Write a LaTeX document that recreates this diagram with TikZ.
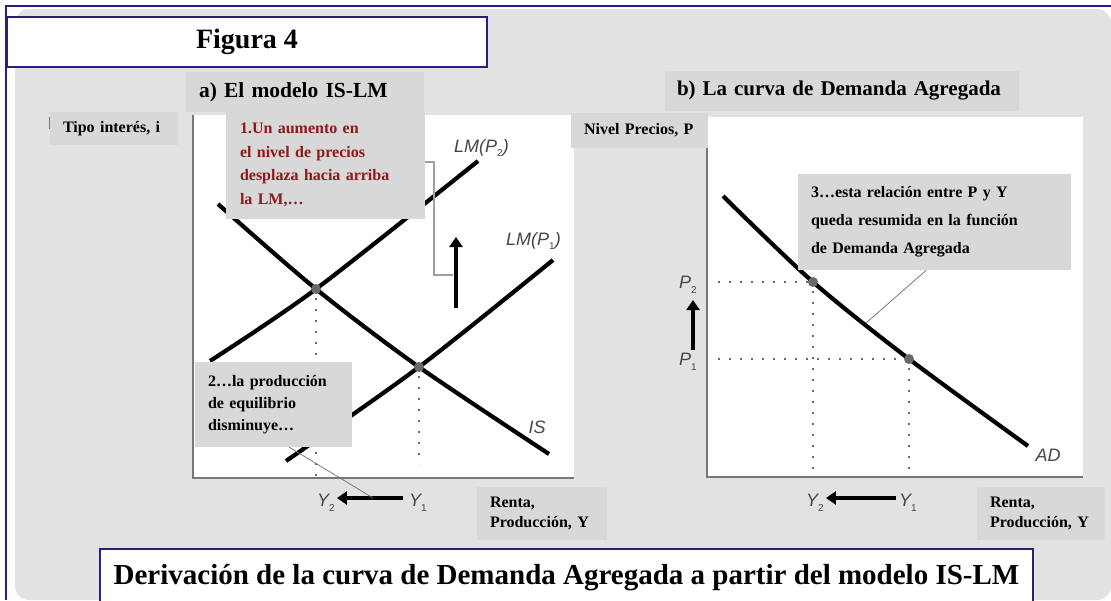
\documentclass[tikz,border=0pt]{standalone}
\usepackage{fontspec}
\setmainfont{Liberation Serif}
\newfontfamily\labfont{Liberation Sans}
\usetikzlibrary{arrows.meta,calc}
\definecolor{navy}{RGB}{38,34,122}
\definecolor{bggray}{RGB}{226,226,226}
\definecolor{boxgray}{RGB}{216,216,216}
\definecolor{darkred}{RGB}{140,26,26}
\definecolor{dotgray}{RGB}{105,105,105}
\definecolor{axisgray}{RGB}{120,120,120}
\definecolor{labgray}{RGB}{70,70,70}
\definecolor{leadgray}{RGB}{110,110,110}
\definecolor{brgray}{RGB}{160,160,160}
\newcommand{\lsub}[1]{\raisebox{-4.5pt}{\upshape\fontsize{10}{10}\selectfont #1}}
\begin{document}
\begin{tikzpicture}[x=1pt,y=-1pt,
  graybox/.style={fill=boxgray, inner ysep=0pt, align=left, text=black},
  lbl/.style={graybox, font=\fontsize{16}{20}\selectfont\bfseries, inner xsep=13pt},
  ttl/.style={graybox, font=\fontsize{21.5}{26}\selectfont\bfseries, inner xsep=13pt},
  whitebox/.style={draw=navy, line width=1.4pt, fill=white, inner sep=0pt},
  curve/.style={line width=4.2pt, black},
  axisline/.style={line width=1.6pt, axisgray},
  dotline/.style={line width=2pt, dotgray, dash pattern=on 2pt off 9pt},
  eqdot/.style={circle, fill=dotgray, inner sep=0pt, minimum size=10pt},
  bigarrow/.style={line width=4.5pt, -{Triangle[length=10pt,width=13pt]}},
  leader/.style={line width=0.7pt, leadgray},
  bracket/.style={line width=1.1pt, brgray},
  curvelab/.style={font=\fontsize{18}{20}\selectfont\labfont\itshape, text=labgray, inner sep=0pt},
]
\useasboundingbox (0,0) rectangle (1111,600);
\fill[white] (0,0) rectangle (1111,600);
\fill[bggray, rounded corners=14pt] (15,9) rectangle (1111,600);
\draw[navy, line width=1.4pt] (6,600) -- (6,6) -- (1111,6);

% plot areas
\fill[white] (193,115) rectangle (574,478);
\fill[white] (707,117) rectangle (1083,477);
\draw[axisline] (193,115) -- (193,478) -- (574,478);
\draw[axisline] (707,148) -- (707,477) -- (1083,477);
\draw[axisgray, line width=1pt] (49,117) -- (49,129);

% title boxes
\node[whitebox, minimum width=480pt, minimum height=50pt, font=\fontsize{28}{32}\selectfont\bfseries] (fig) at (247,42) {Figura 4};
\node[ttl, text width=212pt, minimum height=40pt] (ta) at (305,92) {\mbox{a) El modelo IS-LM}};
\node[ttl, text width=330pt, inner xsep=12pt, minimum height=40pt, font=\fontsize{21}{26}\selectfont\bfseries] (tb) at (842,91) {\mbox{b) La curva de Demanda Agregada}};
\node[lbl, text width=102pt, minimum height=33pt] (ti) at (114,128.5) {Tipo interés, i};
\node[lbl, text width=111pt, minimum height=35pt] (np) at (639.5,130.5) {Nivel Precios, P};

% equilibrium points
\coordinate (E2) at (316,289);
\coordinate (E1) at (419,367);
\coordinate (F2) at (813,282);
\coordinate (F1) at (909,359);

% dotted guides
\draw[dotline] (316,298) -- (316,476);
\draw[dotline] (419,376) -- (419,464);
\draw[dotline] (718,282) -- (F2);
\draw[dotline] (718,359) -- (F1);
\draw[dotline] (813,291) -- (813,472);
\draw[dotline] (909,368) -- (909,472);

% curves
\draw[curve] plot[smooth] coordinates {(218,204) (316,289) (419,367) (549,454)};
\draw[curve] plot[smooth] coordinates {(210,361) (316,289) (478,161)};
\draw[curve] plot[smooth] coordinates {(286,461) (419,367) (553,260)};
\draw[curve] plot[smooth] coordinates {(723,196) (813,282) (909,359) (1028,446)};

\node[eqdot] (d2) at (E2) {};
\node[eqdot] (d1) at (E1) {};
\node[eqdot] (f2) at (F2) {};
\node[eqdot] (f1) at (F1) {};

% curve labels
\node[curvelab, anchor=west] (lm2) at (454,148) {LM(P\lsub{2})};
\node[curvelab, anchor=west] (lm1) at (506,241) {LM(P\lsub{1})};
\node[curvelab] (is) at (537,427) {IS};
\node[curvelab] (ad) at (1048,455) {AD};
\node[curvelab] (Y2L) at (326,503) {Y\lsub{2}};
\node[curvelab] (Y1L) at (418,503) {Y\lsub{1}};
\node[curvelab] (Y2R) at (815,503) {Y\lsub{2}};
\node[curvelab] (Y1R) at (908,503) {Y\lsub{1}};
\node[curvelab] (P2) at (688,285) {P\lsub{2}};
\node[curvelab] (P1) at (688,362) {P\lsub{1}};

% arrows
\coordinate (ua1) at (456,308);
\coordinate (ua2) at (456,237);
\draw[bigarrow] (ua1) -- (ua2);
\draw[bigarrow] ([xshift=-6pt,yshift=5pt]Y1L.west) -- ([xshift=2pt,yshift=5pt]Y2L.east);
\draw[bigarrow] ([xshift=-3pt,yshift=5pt]Y1R.west) -- ([xshift=2pt,yshift=5pt]Y2R.east);
\coordinate (pa1) at (693,350);
\coordinate (pa2) at (693,300);
\draw[bigarrow] (pa1) -- (pa2);

% annotation boxes
\node[lbl, text=darkred, text width=171pt, inner xsep=14pt, minimum height=108pt, font=\fontsize{16}{23.7}\selectfont\bfseries] (lab1) at (325.5,165) {1.Un aumento en\\el nivel de precios\\desplaza hacia arriba\\la LM,…};
\node[lbl, text width=131pt, minimum height=85pt, font=\fontsize{16}{22}\selectfont\bfseries] (lab2) at (273.5,404.5) {2…la producción\\de equilibrio\\disminuye…};
\node[lbl, text width=247pt, minimum height=96pt, font=\fontsize{16}{28}\selectfont\bfseries] (lab3) at (934.5,222) {3…esta relación entre P y Y\\queda resumida en la función\\de Demanda Agregada};
\node[lbl, text width=104pt, minimum height=53pt] (rl) at (542,513.5) {Renta,\\Producción, Y};
\node[lbl, text width=102pt, minimum height=53pt] (rr) at (1041,513.5) {Renta,\\Producción, Y};

% leaders and bracket
\coordinate (lp2) at (373,498);
\coordinate (lp3) at (866,323);
\draw[leader] ($(lab2.south west)!0.6!(lab2.south east)$) -- (lp2);
\draw[leader] ($(lab3.south west)!0.47!(lab3.south east)$) -- (lp3);
\draw[bracket] (lab1.east |- 0,162) -- (434,162) -- (434,275) -- (453,275);

% caption
\node[whitebox, minimum width=933pt, minimum height=58pt, font=\fontsize{29}{32}\selectfont\bfseries] (cap) at (566.5,578) {Derivación de la curva de Demanda Agregada a partir del modelo IS-LM};
\end{tikzpicture}
\end{document}
